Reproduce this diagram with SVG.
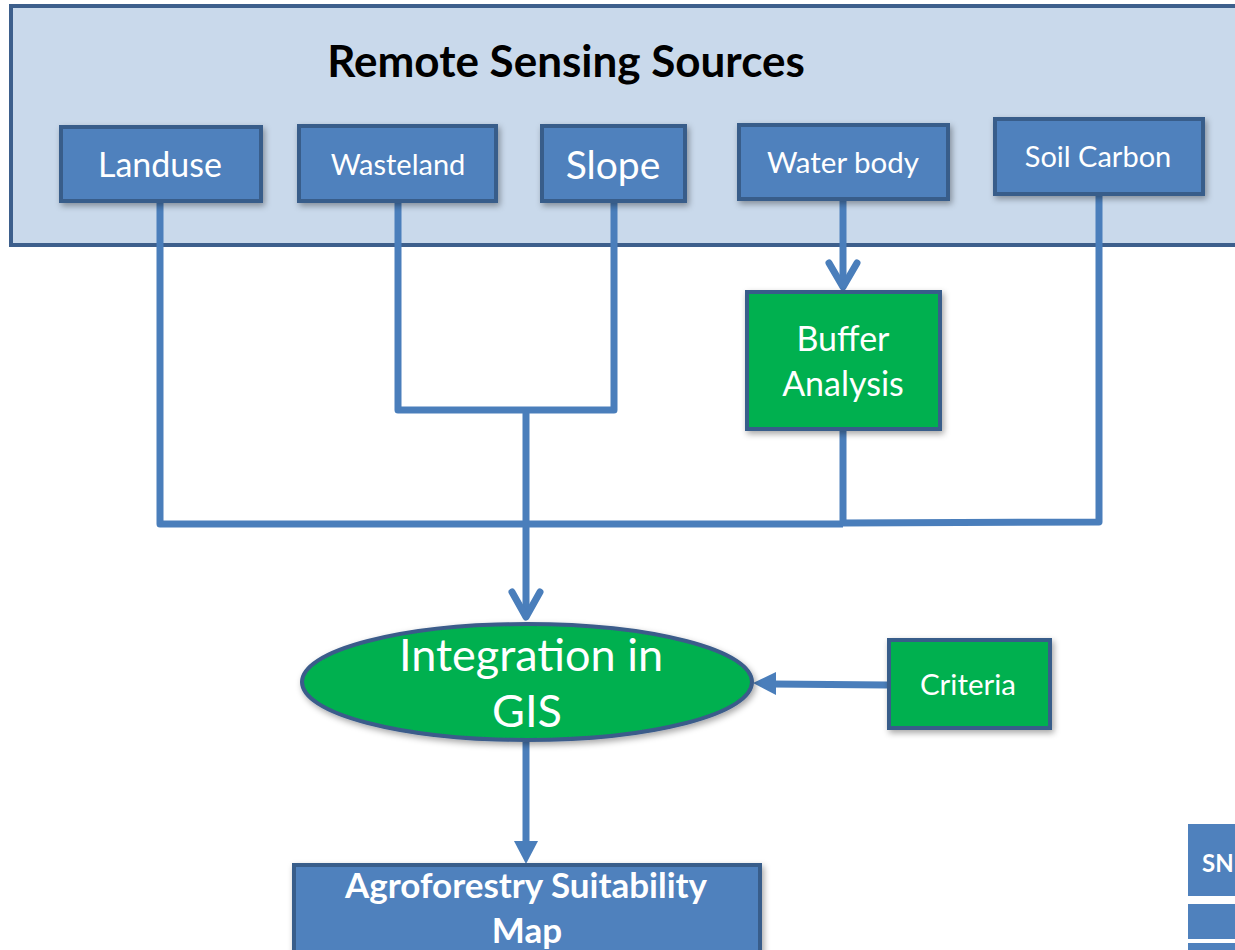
<svg xmlns="http://www.w3.org/2000/svg" width="1235" height="950" viewBox="0 0 1235 950">
<style>
.box{fill:#4F81BD;stroke:#385D8A;stroke-width:4;filter:url(#sh)}
.gbox{fill:#00B050;stroke:#385D8A;stroke-width:4;filter:url(#sh)}
.t{font-family:Lato,"Liberation Sans",sans-serif;fill:#FFFFFF;text-anchor:middle}
.c{fill:none;stroke:#4A7EBB;stroke-width:7;stroke-linejoin:round}
.chev{fill:none;stroke:#4A7EBB;stroke-width:7;stroke-linecap:round;stroke-linejoin:round}
.head{fill:#4A7EBB}
</style>
<defs>
<filter id="sh" x="-20%" y="-20%" width="140%" height="150%">
<feDropShadow dx="2" dy="3" stdDeviation="3" flood-color="#000" flood-opacity="0.35"/>
</filter>
</defs>
<rect width="1235" height="950" fill="#FFFFFF"/>
<g id="container">
<rect x="11" y="6" width="1240" height="239" fill="#C9D9EB" stroke="#3D5F8C" stroke-width="4"/>
<text x="566" y="77" font-family="Lato,'Liberation Sans',sans-serif" font-weight="bold" font-size="44" text-anchor="middle" fill="#000000">Remote Sensing Sources</text>
</g>
<g id="connectors">
<polyline class="c" points="160,203 160,524 843,524"/>
<polyline class="c" points="398,203 398,410 614,410 614,203"/>
<line class="c" x1="526" y1="410" x2="526" y2="616"/>
<polyline class="chev" points="512,592 526,617 540,592"/>
<line class="c" x1="843" y1="201" x2="843" y2="286"/>
<polyline class="chev" points="829,263 843,287 857,263"/>
<polyline class="c" points="843,431 843,523 1099,522 1099,196"/>
<line class="c" x1="887" y1="685" x2="772" y2="684"/>
<polygon class="head" points="753,683 776,672 776,695"/>
<line class="c" x1="526" y1="742" x2="526" y2="844"/>
<polygon class="head" points="526,864 514,841 538,841"/>
</g>
<g id="landuse">
<rect class="box" x="61" y="127" width="200" height="74"/>
<text class="t" x="160" y="177" font-size="34">Landuse</text>
</g>
<g id="wasteland">
<rect class="box" x="299" y="126" width="197" height="75"/>
<text class="t" x="398" y="175" font-size="29">Wasteland</text>
</g>
<g id="slope">
<rect class="box" x="542" y="126" width="143" height="75"/>
<text class="t" x="613" y="179" font-size="39">Slope</text>
</g>
<g id="waterbody">
<rect class="box" x="739" y="125" width="209" height="74"/>
<text class="t" x="843" y="173" font-size="29.5">Water body</text>
</g>
<g id="soilcarbon">
<rect class="box" x="995" y="119" width="208" height="75"/>
<text class="t" x="1098" y="167" font-size="29">Soil Carbon</text>
</g>
<g id="buffer">
<rect class="gbox" x="747" y="292" width="193" height="137"/>
<text class="t" x="843" y="351" font-size="34">Buffer</text>
<text class="t" x="843" y="396" font-size="34">Analysis</text>
</g>
<g id="integration">
<ellipse cx="527" cy="682" rx="225" ry="58" fill="#00B050" stroke="#3B5C8A" stroke-width="4" filter="url(#sh)"/>
<text class="t" x="531" y="671" font-size="45">Integration in</text>
<text class="t" x="527" y="727" font-size="45">GIS</text>
</g>
<g id="criteria">
<rect class="gbox" x="889" y="640" width="161" height="88"/>
<text class="t" x="968" y="695" font-size="29.5">Criteria</text>
</g>
<g id="map">
<rect class="box" x="294" y="865" width="466" height="100"/>
<text class="t" x="526" y="898" font-size="35" font-weight="bold">Agroforestry Suitability</text>
<text class="t" x="527" y="943" font-size="35" font-weight="bold">Map</text>
</g>
<g id="partial">
<rect x="1188" y="824" width="60" height="72" fill="#4F81BD"/>
<text x="1202" y="872" font-family="Lato,'Liberation Sans',sans-serif" font-weight="bold" font-size="24" fill="#FFFFFF">SN</text>
<rect x="1188" y="904" width="60" height="35" fill="#4F81BD"/>
<rect x="1188" y="943" width="60" height="10" fill="#4F81BD"/>
</g>
</svg>
